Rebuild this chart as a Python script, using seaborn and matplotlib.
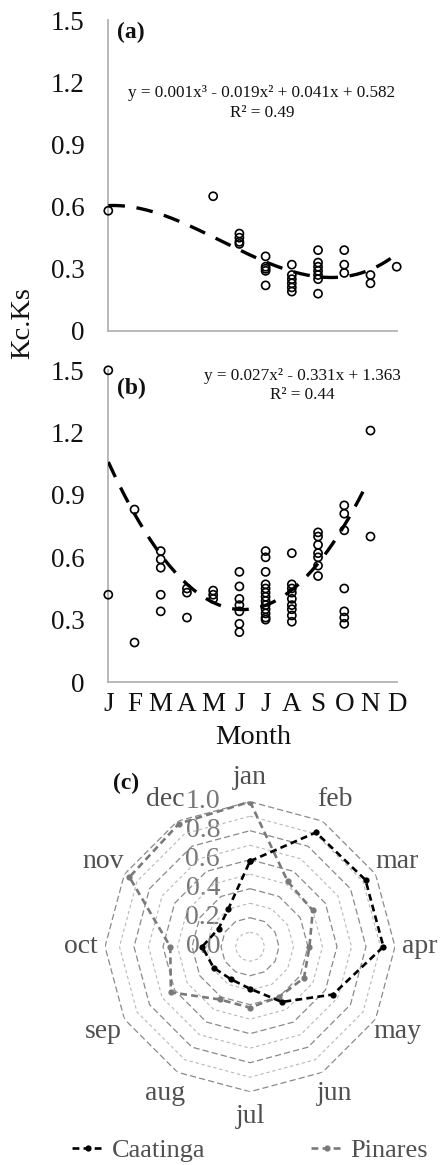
import numpy as np
import matplotlib
matplotlib.use("Agg")
import matplotlib.pyplot as plt
import matplotlib.transforms as mtransforms
import seaborn as sns

# ---------------- data ----------------
# Panel (a): Kc.Ks observations, month number (1 = January)
a_month = [1, 5, 6, 6, 6, 6, 7, 7, 7, 7, 7, 8, 8, 8, 8, 8, 8,
           9, 9, 9, 9, 9, 9, 9, 10, 10, 10, 11, 11, 12]
a_kcks = [0.58, 0.65, 0.47, 0.45, 0.43, 0.42, 0.36, 0.31, 0.30, 0.29, 0.22,
          0.32, 0.27, 0.25, 0.23, 0.21, 0.19,
          0.39, 0.33, 0.31, 0.29, 0.27, 0.25, 0.18,
          0.39, 0.32, 0.28, 0.27, 0.23, 0.31]
# cubic trend for (a): a3, a2, a1, a0
a_coef = [0.00121, -0.0194, 0.041, 0.582]
a_r2 = 0.49

# Panel (b)
b_month = [1, 1, 2, 2, 3, 3, 3, 3, 3, 4, 4, 4, 5, 5, 5,
           6, 6, 6, 6, 6, 6, 6,
           7, 7, 7, 7, 7, 7, 7, 7, 7, 7, 7, 7, 7,
           8, 8, 8, 8, 8, 8, 8, 8, 8,
           9, 9, 9, 9, 9, 9, 9,
           10, 10, 10, 10, 10, 10, 10,
           11, 11]
b_kcks = [1.50, 0.42, 0.83, 0.19, 0.63, 0.59, 0.55, 0.42, 0.34, 0.45, 0.43, 0.31,
          0.44, 0.42, 0.40,
          0.53, 0.46, 0.40, 0.37, 0.34, 0.28, 0.24,
          0.63, 0.60, 0.53, 0.47, 0.45, 0.43, 0.41, 0.39, 0.37, 0.35, 0.33, 0.31, 0.30,
          0.62, 0.47, 0.45, 0.43, 0.40, 0.37, 0.35, 0.32, 0.29,
          0.72, 0.70, 0.66, 0.62, 0.60, 0.56, 0.51,
          0.85, 0.81, 0.73, 0.45, 0.34, 0.31, 0.28,
          1.21, 0.70]
# quadratic trend for (b): b2, b1, b0
b_coef = [0.027, -0.331, 1.363]
b_r2 = 0.44

month_letters = ["J", "F", "M", "A", "M", "J", "J", "A", "S", "O", "N", "D"]
y_ticks = [0, 0.3, 0.6, 0.9, 1.2, 1.5]
y_ticklabels = ["0", "0.3", "0.6", "0.9", "1.2", "1.5"]

# Panel (c): monthly values per site
radar_months = ["jan", "feb", "mar", "apr", "may", "jun",
                "jul", "aug", "sep", "oct", "nov", "dec"]
caatinga = [0.59, 0.91, 0.92, 0.92, 0.66, 0.44, 0.29, 0.26, 0.29, 0.33, 0.25, 0.30]
pinares = [1.00, 0.52, 0.50, 0.41, 0.43, 0.40, 0.42, 0.42, 0.63, 0.55, 0.96, 0.98]

# ---------------- style ----------------
sns.set_theme(style="white")
plt.rcParams["font.family"] = ["Liberation Serif", "DejaVu Serif"]
plt.rcParams["mathtext.fontset"] = "stix"

W, H = 440, 1165
fig = plt.figure(figsize=(W / 100, H / 100), dpi=100)
fig.patch.set_facecolor("white")


def axes_px(left, top, right, bottom, **kw):
    return fig.add_axes([left / W, 1 - bottom / H, (right - left) / W, (bottom - top) / H], **kw)


spine_col = "#b3b3b3"
trend_ls = (0, (5, 3.5))
ink = "#111111"


def style_panel(ax, show_months):
    ax.set_xlim(1, 12)
    ax.set_ylim(0, 1.5)
    sns.despine(ax=ax)
    for s in ("left", "bottom"):
        ax.spines[s].set_color(spine_col)
        ax.spines[s].set_linewidth(1.3)
    ax.set_yticks(y_ticks)
    ax.set_yticklabels(y_ticklabels)
    ax.set_xticks(range(1, 13))
    if show_months:
        ax.set_xticklabels(month_letters)
    else:
        ax.set_xticklabels([])
    ax.tick_params(axis="y", length=0, pad=17, labelsize=19.5, labelcolor=ink)
    ax.tick_params(axis="x", length=0, pad=7, labelsize=19.5, labelcolor=ink)
    ax.set_xlabel("")
    ax.set_ylabel("")
    ax.grid(False)


def scatter_open(ax, x, y):
    sns.scatterplot(x=x, y=y, ax=ax, marker="o", s=34, color="black",
                    linewidth=1.2, zorder=3, clip_on=False, legend=False)
    coll = ax.collections[-1]
    coll.set_facecolor("none")
    coll.set_edgecolor("black")


# ---------------- panel (a) ----------------
ax_a = axes_px(108.3, 20, 396.7, 331)
scatter_open(ax_a, a_month, a_kcks)
xa = np.linspace(1, 12, 200)
ya = np.polyval(a_coef, xa)
sns.lineplot(x=xa, y=ya, ax=ax_a, color="black", linewidth=2.4, linestyle=trend_ls,
             zorder=4, sort=False)
style_panel(ax_a, show_months=False)
eq_a = (f"y = {a_coef[0]:.3f}x³ - {abs(a_coef[1]):.3f}x² + "
        f"{a_coef[2]:.3f}x + {a_coef[3]:.3f}")
fig.text(262 / W, 1 - 93 / H, eq_a, ha="center", va="center", fontsize=12.3, color=ink)
fig.text(262 / W, 1 - 113 / H, f"R² = {a_r2:.2f}", ha="center", va="center",
         fontsize=12.3, color=ink)
fig.text(117 / W, 1 - 32 / H, "(a)", ha="left", va="center", fontsize=17,
         fontweight="bold", color=ink)

# ---------------- panel (b) ----------------
ax_b = axes_px(108.3, 370.3, 396.7, 682)
scatter_open(ax_b, b_month, b_kcks)
xb = np.linspace(1, 10.85, 200)
yb = np.polyval(b_coef, xb)
sns.lineplot(x=xb, y=yb, ax=ax_b, color="black", linewidth=2.4, linestyle=trend_ls,
             zorder=4, sort=False)
style_panel(ax_b, show_months=True)
eq_b = f"y = {b_coef[0]:.3f}x² - {abs(b_coef[1]):.3f}x + {b_coef[2]:.3f}"
fig.text(302 / W, 1 - 376 / H, eq_b, ha="center", va="center", fontsize=12.3, color=ink)
fig.text(302 / W, 1 - 395 / H, f"R² = {b_r2:.2f}", ha="center", va="center",
         fontsize=12.3, color=ink)
fig.text(117 / W, 1 - 388 / H, "(b)", ha="left", va="center", fontsize=17,
         fontweight="bold", color=ink)

fig.text(253 / W, 1 - 737 / H, "Month", ha="center", va="center", fontsize=20.5, color=ink)
fig.text(23 / W, 1 - 323 / H, "Kc.Ks", ha="center", va="center", rotation=90,
         fontsize=20.5, color=ink)

# ---------------- panel (c): radar ----------------
R_px = 145
cx, cy = 250, 946.7
ax_c = axes_px(cx - R_px, cy - R_px, cx + R_px, cy + R_px, projection="polar")
ax_c.set_theta_zero_location("N")
ax_c.set_theta_direction(-1)
ax_c.set_ylim(0, 1)
ax_c.grid(False)
ax_c.spines["polar"].set_visible(False)
ax_c.set_xticks([])
ax_c.set_yticks([])
ax_c.patch.set_alpha(0)

theta = np.linspace(0, 2 * np.pi, 13)
for k in range(1, 11):
    r = k / 10
    if k % 2 == 0:
        ax_c.plot(theta, [r] * 13, color="#8a8a8a", lw=0.9, ls=(0, (5, 2.5)), zorder=3)
    else:
        ax_c.plot(theta, [r] * 13, color="#b8b8b8", lw=0.8, ls=(0, (3, 2.5)), zorder=3)

label_off = mtransforms.offset_copy(ax_c.transData, fig=fig, x=-30, y=0, units="dots")
for k in range(0, 11, 2):
    r = k / 10
    ax_c.text(0, r, f"{r:.1f}", transform=label_off, ha="right", va="center",
              fontsize=20, color="#777777", zorder=2)

for i, name in enumerate(radar_months):
    ax_c.text(theta[i], 1.17, name, ha="center", va="center", fontsize=20,
              color="#505050", clip_on=False)

closed_theta = list(theta)
sns.lineplot(x=closed_theta, y=caatinga + caatinga[:1], ax=ax_c, sort=False,
             color="black", linewidth=1.9, linestyle=(0, (2.6, 1.6)), marker="o",
             markersize=4.5, markeredgewidth=0, label="Caatinga", zorder=5)
sns.lineplot(x=closed_theta, y=pinares + pinares[:1], ax=ax_c, sort=False,
             color="#7a7a7a", linewidth=1.9, linestyle=(0, (2.6, 1.6)), marker="o",
             markersize=4.5, markeredgewidth=0, label="Pinares", zorder=4)
ax_c.set_xlabel("")
ax_c.set_ylabel("")
handles, labels = ax_c.get_legend_handles_labels()
if ax_c.get_legend() is not None:
    ax_c.get_legend().remove()
fig.legend(handles, labels, loc="center", bbox_to_anchor=(250 / W, 1 - 1150 / H),
           ncol=2, frameon=False, handlelength=1.2, handletextpad=0.3,
           columnspacing=4.0, fontsize=19, labelcolor="#505050")
fig.text(113 / W, 1 - 783 / H, "(c)", ha="left", va="center", fontsize=17,
         fontweight="bold", color=ink)

fig.savefig("out.png", dpi=100, facecolor="white")
